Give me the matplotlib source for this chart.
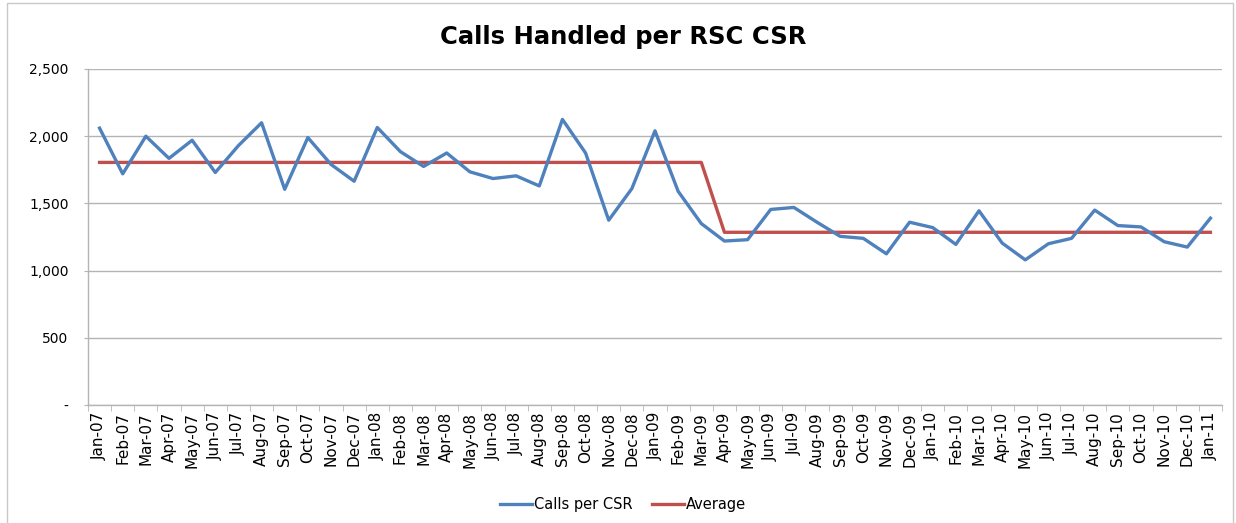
import matplotlib
matplotlib.use("Agg")
import matplotlib.pyplot as plt
from matplotlib.patches import Rectangle
from matplotlib.ticker import FuncFormatter, FixedLocator

months = ["Jan-07","Feb-07","Mar-07","Apr-07","May-07","Jun-07","Jul-07","Aug-07","Sep-07","Oct-07","Nov-07","Dec-07",
          "Jan-08","Feb-08","Mar-08","Apr-08","May-08","Jun-08","Jul-08","Aug-08","Sep-08","Oct-08","Nov-08","Dec-08",
          "Jan-09","Feb-09","Mar-09","Apr-09","May-09","Jun-09","Jul-09","Aug-09","Sep-09","Oct-09","Nov-09","Dec-09",
          "Jan-10","Feb-10","Mar-10","Apr-10","May-10","Jun-10","Jul-10","Aug-10","Sep-10","Oct-10","Nov-10","Dec-10",
          "Jan-11"]

calls_per_csr = [2060, 1720, 2000, 1835, 1970, 1730, 1930, 2100, 1605, 1990, 1790, 1665,
                 2065, 1885, 1775, 1875, 1735, 1685, 1705, 1630, 2125, 1875, 1375, 1610,
                 2040, 1590, 1350, 1220, 1230, 1455, 1470, 1360, 1255, 1240, 1125, 1360,
                 1320, 1195, 1445, 1205, 1080, 1200, 1240, 1450, 1335, 1325, 1215, 1175,
                 1390]

average = [1805] * 27 + [1285] * 22

yticks = [0, 500, 1000, 1500, 2000, 2500]

plt.rcParams['font.family'] = ['DejaVu Sans']

fig = plt.figure(figsize=(12.36, 5.23), dpi=100)
ax = fig.add_axes([88/1236, 1 - 405/523, (1222-88)/1236, (405-69)/523])

x = list(range(len(months)))
ax.plot(x, calls_per_csr, color="#4F81BD", lw=2.4, label="Calls per CSR", zorder=3)
ax.plot(x, average, color="#C0504D", lw=2.4, label="Average", zorder=2)

ax.set_xlim(-0.5, len(months) - 0.5)
ax.set_ylim(0, 2500)
ax.set_yticks(yticks)
ax.yaxis.set_major_formatter(FuncFormatter(lambda v, p: "-" if v == 0 else f"{int(v):,}"))
ax.grid(axis="y", color="#B4B4B4", lw=1.0)
ax.set_axisbelow(True)

ax.set_xticks(x)
ax.set_xticklabels(months, rotation=90, fontsize=11)
ax.xaxis.set_minor_locator(FixedLocator([i - 0.5 for i in range(len(months) + 1)]))
ax.tick_params(axis="x", which="major", length=0, pad=5)
ax.tick_params(axis="x", which="minor", length=4, color="#B4B4B4", direction="out")
ax.tick_params(axis="y", length=3, color="#B4B4B4", labelsize=10, pad=11)

for s in ["top", "right"]:
    ax.spines[s].set_visible(False)
for s in ["left", "bottom"]:
    ax.spines[s].set_color("#B4B4B4")
    ax.spines[s].set_linewidth(1.0)

fig.text(623/1236, 1 - 37/523, "Calls Handled per RSC CSR", ha="center", va="center",
         fontsize=17.5, fontweight="bold")

leg = fig.legend(loc="center", bbox_to_anchor=(623/1236, 1 - 505/523), ncol=2, frameon=False,
                 fontsize=10.5, handlelength=2.2, handletextpad=0.15, columnspacing=1.3)

fig.patches.append(Rectangle((7/1236, -0.01), (1233-7)/1236, 1 - 3/523 + 0.01,
                             transform=fig.transFigure, fill=False, edgecolor="#C8C8C8", lw=1.0))

fig.savefig("out.png", dpi=100)
